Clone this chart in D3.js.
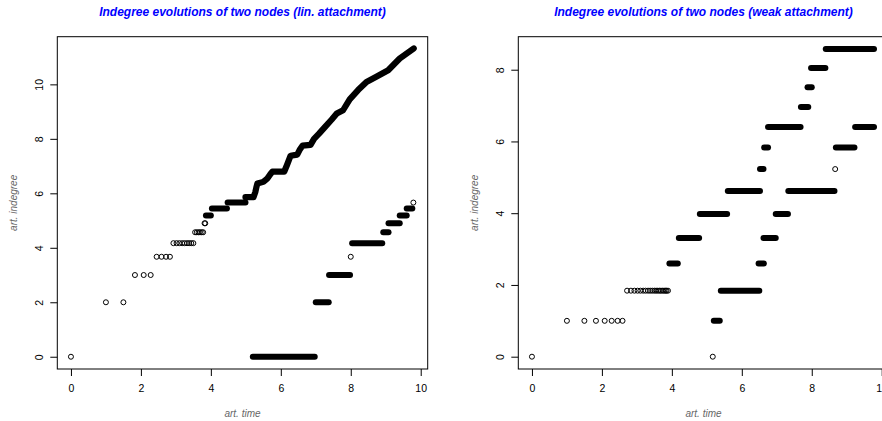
<!DOCTYPE html>
<html>
<head>
<meta charset="utf-8">
<script src="https://cdn.jsdelivr.net/npm/d3@7"></script>
<style>
  body { margin: 0; background: #fff; }
  svg { display: block; font-family: "Liberation Sans", Arial, sans-serif; }
</style>
</head>
<body>
<svg id="chart"></svg>
<script>
// ---- data: [time, indegree] for single points, [t0, t1, indegree] for dense runs
const xTicks = [0, 2, 4, 6, 8, 10];
const linYTicks = [0, 2, 4, 6, 8, 10];
const weakYTicks = [0, 2, 4, 6, 8];

// lin. attachment, first node
const linA_dots = [
  [0, 0],
  [1, 2], [1.5, 2],
  [1.83, 3], [2.08, 3], [2.28, 3],
  [2.45, 3.67], [2.59, 3.67], [2.72, 3.67], [2.83, 3.67],
  [2.93, 4.17], [3.02, 4.17], [3.10, 4.17], [3.18, 4.17], [3.25, 4.17], [3.32, 4.17], [3.38, 4.17], [3.44, 4.17], [3.50, 4.17],
  [3.55, 4.57], [3.60, 4.57], [3.65, 4.57], [3.69, 4.57], [3.74, 4.57], [3.78, 4.57],
  [3.82, 4.9], [3.84, 4.9]
];
const linA_runs = [
  [3.86, 4.0, 5.19], [4.03, 4.46, 5.44], [4.48, 4.99, 5.66]
];
const linA_trail = [
  [4.99, 5.86], [5.22, 5.86], [5.27, 6.04], [5.30, 6.21], [5.33, 6.36], [5.50, 6.42], [5.62, 6.55],
  [5.70, 6.70], [5.76, 6.80], [6.10, 6.80], [6.18, 7.05], [6.28, 7.38], [6.47, 7.42], [6.55, 7.62],
  [6.62, 7.75], [6.85, 7.78], [6.95, 8.0], [7.10, 8.2], [7.26, 8.43], [7.45, 8.7], [7.60, 8.93],
  [7.78, 9.05], [7.97, 9.45], [8.21, 9.79], [8.45, 10.09], [8.73, 10.28], [8.90, 10.4], [9.07, 10.52],
  [9.40, 10.95], [9.80, 11.32]
];
// lin. attachment, second node
const linB_dots = [[8.0, 3.67], [9.79, 5.66]];
const linB_runs = [
  [5.2, 6.97, 0], [7.0, 7.37, 2], [7.38, 7.98, 3], [8.04, 8.9, 4.17],
  [8.93, 9.08, 4.57], [9.08, 9.4, 4.9], [9.4, 9.6, 5.19], [9.6, 9.76, 5.44]
];

// weak attachment, first node
const weakA_dots = [
  [0, 0],
  [1, 1], [1.5, 1], [1.83, 1], [2.08, 1], [2.28, 1], [2.45, 1], [2.59, 1],
  [2.72, 1.84], [2.83, 1.84], [2.93, 1.84], [3.02, 1.84], [3.10, 1.84], [3.18, 1.84], [3.25, 1.84],
  [3.32, 1.84], [3.38, 1.84], [3.44, 1.84], [3.50, 1.84], [3.55, 1.84], [3.60, 1.84], [3.65, 1.84],
  [3.69, 1.84], [3.74, 1.84], [3.78, 1.84], [3.82, 1.84], [3.85, 1.84], [3.89, 1.84]
];
const weakA_runs = [
  [3.93, 4.17, 2.6], [4.2, 4.78, 3.31], [4.8, 5.58, 3.98], [5.6, 6.52, 4.62], [6.52, 6.62, 5.23],
  [6.64, 6.75, 5.83], [6.75, 7.68, 6.4], [7.69, 7.9, 6.96], [7.88, 8.0, 7.51], [7.98, 8.39, 8.05],
  [8.4, 9.78, 8.58]
];
// weak attachment, second node
const weakB_dots = [[5.17, 0], [8.67, 5.23]];
const weakB_runs = [
  [5.2, 5.37, 1], [5.4, 6.5, 1.84], [6.48, 6.63, 2.6], [6.62, 6.97, 3.31], [6.97, 7.32, 3.98],
  [7.33, 8.65, 4.62], [8.69, 9.22, 5.83], [9.24, 9.78, 6.4]
];

const width = 882, height = 421;
const svg = d3.select('#chart').attr('width', width).attr('height', height);

// one R-style panel: box, ticks, rotated y labels, title, axis labels
let drawPanel = (offset, opts) => {
  let g = svg.append('g').attr('transform', `translate(${offset},0)`);
  let left = 57.3, right = 427.7, top = 36.7, bottom = 369;

  let x = d3.scaleLinear().domain([-0.39, 10.2]).range([left, right]);
  let y = d3.scaleLinear().domain(opts.yDomain).range([bottom, top]);

  // x axis
  let xAxis = g.append('g')
    .attr('transform', `translate(0,${bottom})`)
    .call(d3.axisBottom(x).tickValues(xTicks).tickSize(7).tickPadding(8.5).tickFormat(d3.format('d')));
  xAxis.select('.domain').remove();
  xAxis.selectAll('line').attr('stroke', '#000');
  xAxis.selectAll('text').attr('font-size', '10.5px').attr('fill', '#000')
    .attr('font-family', '"Liberation Sans", Arial, sans-serif');

  // y axis, labels parallel to axis
  let yAxis = g.append('g')
    .attr('transform', `translate(${left},0)`)
    .call(d3.axisLeft(y).tickValues(opts.yTicks).tickSize(7).tickFormat(d3.format('d')));
  yAxis.select('.domain').remove();
  yAxis.selectAll('line').attr('stroke', '#000');
  yAxis.selectAll('text').remove();
  yAxis.selectAll('.tick').append('text')
    .attr('transform', 'translate(-14.5,0) rotate(-90)')
    .attr('text-anchor', 'middle')
    .attr('font-size', '10.5px')
    .attr('fill', '#000')
    .text(d => d);

  // box
  g.append('rect')
    .attr('x', left).attr('y', top)
    .attr('width', right - left).attr('height', bottom - top)
    .attr('fill', 'none').attr('stroke', '#000').attr('stroke-width', 1);

  let marks = g.append('g');
  let line = d3.line().x(d => x(d[0])).y(d => y(d[1]));

  // dense stretches: overlapping circles merge into a rounded band
  opts.runs.forEach(runs => {
    marks.selectAll(null)
      .data(runs)
      .enter().append('line')
      .attr('x1', d => x(d[0])).attr('x2', d => x(d[1]))
      .attr('y1', d => y(d[2])).attr('y2', d => y(d[2]))
      .attr('stroke', '#000').attr('stroke-width', 6).attr('stroke-linecap', 'round');
  });

  opts.trails.forEach(trail => {
    marks.append('path')
      .attr('d', line(trail))
      .attr('fill', 'none').attr('stroke', '#000').attr('stroke-width', 6.2)
      .attr('stroke-linecap', 'round').attr('stroke-linejoin', 'round');
  });

  opts.dots.forEach(dots => {
    marks.selectAll(null)
      .data(dots)
      .enter().append('circle')
      .attr('cx', d => x(d[0])).attr('cy', d => y(d[1]))
      .attr('r', 2.5)
      .attr('fill', 'none').attr('stroke', '#000').attr('stroke-width', 1);
  });

  // title
  g.append('text')
    .attr('x', (left + right) / 2).attr('y', 16)
    .attr('text-anchor', 'middle')
    .attr('font-size', '12px').attr('font-weight', 'bold').attr('font-style', 'italic')
    .attr('fill', '#0000ff')
    .text(opts.title);

  // axis labels
  g.append('text')
    .attr('x', (left + right) / 2).attr('y', 416.5)
    .attr('text-anchor', 'middle')
    .attr('font-size', '10px').attr('font-style', 'italic').attr('fill', '#666')
    .text('art. time');

  g.append('text')
    .attr('transform', `translate(16.5,${(top + bottom) / 2}) rotate(-90)`)
    .attr('text-anchor', 'middle')
    .attr('font-size', '10px').attr('font-style', 'italic').attr('fill', '#666')
    .text('art. indegree');
};

drawPanel(0, {
  title: 'Indegree evolutions of two nodes (lin. attachment)',
  yDomain: [-0.45, 11.75],
  yTicks: linYTicks,
  dots: [linA_dots, linB_dots],
  runs: [linA_runs, linB_runs],
  trails: [linA_trail]
});

drawPanel(461, {
  title: 'Indegree evolutions of two nodes (weak attachment)',
  yDomain: [-0.343, 8.92],
  yTicks: weakYTicks,
  dots: [weakA_dots, weakB_dots],
  runs: [weakA_runs, weakB_runs],
  trails: []
});
</script>
</body>
</html>
